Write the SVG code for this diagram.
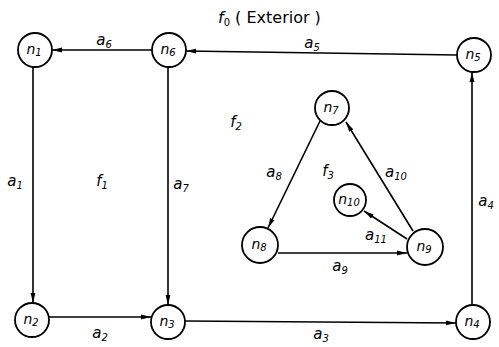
<svg xmlns="http://www.w3.org/2000/svg" width="499" height="347" viewBox="0 0 499 347">
<style>
  .node circle { fill: #fff; stroke: #000; stroke-width: 1.8; }
  .node text { font-family: "DejaVu Sans", sans-serif; font-style: italic; font-size: 14px; text-anchor: middle; fill: #000; }
  .edge { stroke: #000; stroke-width: 1.6; fill: none; marker-end: url(#arr); }
  .lbl { font-family: "DejaVu Sans", sans-serif; font-style: italic; font-size: 15px; fill: #000; text-anchor: middle; }
  .sub { font-size: 10px; }
  .title { font-family: "DejaVu Sans", sans-serif; font-size: 16px; fill: #000; }
</style>
<defs>
  <marker id="arr" viewBox="0 0 10 6" refX="10" refY="3" markerWidth="10" markerHeight="6" markerUnits="userSpaceOnUse" orient="auto">
    <path d="M0,0.6 L10,3 L0,5.4 Z" fill="#000"/>
  </marker>
</defs>
<rect width="499" height="347" fill="#fff"/>

<g id="connectors">
  <line class="edge" x1="152" y1="50" x2="52" y2="50"/>
  <line class="edge" x1="457" y1="55" x2="186" y2="51"/>
  <line class="edge" x1="33" y1="67" x2="33" y2="303"/>
  <line class="edge" x1="168" y1="67" x2="168" y2="305"/>
  <line class="edge" x1="49" y1="317" x2="151" y2="317"/>
  <line class="edge" x1="185" y1="321" x2="456" y2="323"/>
  <line class="edge" x1="472" y1="305" x2="472" y2="72"/>
  <line class="edge" x1="320" y1="121" x2="268" y2="228"/>
  <line class="edge" x1="413" y1="231" x2="346" y2="122"/>
  <line class="edge" x1="278" y1="253" x2="407" y2="253"/>
  <line class="edge" x1="407" y1="239" x2="364" y2="211"/>
</g>

<g id="labels">
  <text class="title" x="218" y="23"><tspan font-style="italic">f</tspan><tspan class="sub" dy="3">0</tspan><tspan dy="-3"> ( Exterior )</tspan></text>
  <text class="lbl" x="104" y="45">a<tspan class="sub" dy="3">6</tspan></text>
  <text class="lbl" x="312" y="48">a<tspan class="sub" dy="3">5</tspan></text>
  <text class="lbl" x="15" y="186">a<tspan class="sub" dy="3">1</tspan></text>
  <text class="lbl" x="102" y="186">f<tspan class="sub" dy="3">1</tspan></text>
  <text class="lbl" x="181" y="189">a<tspan class="sub" dy="3">7</tspan></text>
  <text class="lbl" x="236" y="127">f<tspan class="sub" dy="3">2</tspan></text>
  <text class="lbl" x="274" y="177">a<tspan class="sub" dy="3">8</tspan></text>
  <text class="lbl" x="328" y="176">f<tspan class="sub" dy="3">3</tspan></text>
  <text class="lbl" x="396" y="177">a<tspan class="sub" dy="3">10</tspan></text>
  <text class="lbl" x="376" y="240">a<tspan class="sub" dy="3">11</tspan></text>
  <text class="lbl" x="340" y="271">a<tspan class="sub" dy="3">9</tspan></text>
  <text class="lbl" x="100" y="338">a<tspan class="sub" dy="3">2</tspan></text>
  <text class="lbl" x="321" y="339">a<tspan class="sub" dy="3">3</tspan></text>
  <text class="lbl" x="486" y="206">a<tspan class="sub" dy="3">4</tspan></text>
</g>

<g id="n1" class="node"><circle cx="35" cy="50" r="17"/><text x="34" y="54">n<tspan class="sub" dy="2">1</tspan></text></g>
<g id="n2" class="node"><circle cx="32" cy="320" r="17"/><text x="31" y="324">n<tspan class="sub" dy="2">2</tspan></text></g>
<g id="n3" class="node"><circle cx="168" cy="322" r="17"/><text x="167" y="326">n<tspan class="sub" dy="2">3</tspan></text></g>
<g id="n4" class="node"><circle cx="473" cy="322" r="17"/><text x="472" y="326">n<tspan class="sub" dy="2">4</tspan></text></g>
<g id="n5" class="node"><circle cx="474" cy="55" r="17"/><text x="473" y="59">n<tspan class="sub" dy="2">5</tspan></text></g>
<g id="n6" class="node"><circle cx="169" cy="50" r="17"/><text x="168" y="54">n<tspan class="sub" dy="2">6</tspan></text></g>
<g id="n7" class="node"><circle cx="332" cy="108" r="17"/><text x="331" y="112">n<tspan class="sub" dy="2">7</tspan></text></g>
<g id="n8" class="node"><circle cx="260" cy="245" r="18"/><text x="259" y="249">n<tspan class="sub" dy="2">8</tspan></text></g>
<g id="n9" class="node"><circle cx="425" cy="247" r="18"/><text x="424" y="251">n<tspan class="sub" dy="2">9</tspan></text></g>
<g id="n10" class="node"><circle cx="350" cy="200" r="16"/><text x="349" y="204">n<tspan class="sub" dy="2">10</tspan></text></g>
</svg>
